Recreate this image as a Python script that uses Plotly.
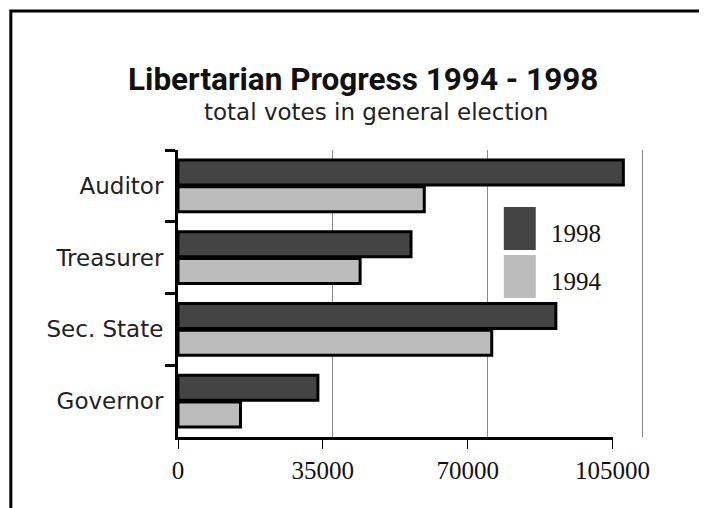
import plotly.graph_objects as go

# ---- data ----
categories = ["Auditor", "Treasurer", "Sec. State", "Governor"]
series_names = ["1998", "1994"]
votes_1998 = [107600, 56300, 91300, 33800]
votes_1994 = [59500, 44000, 75800, 15100]
tick_values = [0, 35000, 70000, 105000]
tick_labels = ["0", "35000", "70000", "105000"]
colors = ["#444444", "#bcbcbc"]

title_text = "Libertarian Progress 1994 - 1998"
subtitle_text = "total votes in general election"

# ---- geometry (screen pixels; page body adds an 8px offset) ----
OFF = 8
W, H = 707, 508
L, R = 177.5, 654.5
T, B = 150, 437
plot_w = R - L
front_end = 613.0           # px where 105000 sits on the front scale
d3 = (front_end - L) / plot_w
R_bars = tick_values[-1] / d3
back_px_per_step = 155.0     # back-wall gridline spacing
R_grid = plot_w * 35000 / back_px_per_step

sans = "DejaVu Sans"
serif = "Liberation Serif"

fig = go.Figure()

# dummy trace for grid axis (drawn first -> behind bars)
fig.add_trace(go.Scatter(x=[0], y=[categories[0]], xaxis="x", yaxis="y",
                         mode="markers", marker=dict(opacity=0),
                         hoverinfo="skip", showlegend=False))

for name, vals, col in zip(series_names, [votes_1998, votes_1994], colors):
    fig.add_trace(go.Bar(y=categories, x=vals, name=name, orientation="h",
                         xaxis="x2", yaxis="y",
                         marker=dict(color=col, line=dict(color="black", width=3)),
                         showlegend=False))

# dummy trace for front tick axis
fig.add_trace(go.Scatter(x=[0], y=[categories[0]], xaxis="x3", yaxis="y",
                         mode="markers", marker=dict(opacity=0),
                         hoverinfo="skip", showlegend=False))

def px_x(p):
    return (p - L) / plot_w

def px_y(p):
    return (B - p) / (B - T)

annotations = [
    dict(text="<b>" + title_text + "</b>", xref="paper", yref="paper",
         x=px_x(362.5), y=px_y(79), xanchor="center", yanchor="middle",
         showarrow=False,
         font=dict(family="Roboto", size=31.5, color="#111111")),
    dict(text=subtitle_text, xref="paper", yref="paper",
         x=px_x(376), y=px_y(112), xanchor="center", yanchor="middle",
         showarrow=False, font=dict(family=sans, size=23, color="#222222")),
]

shapes = [
    # outer frame
    dict(type="rect", xref="paper", yref="paper",
         x0=px_x(10), x1=px_x(760), y0=px_y(560), y1=px_y(11),
         line=dict(color="black", width=3), fillcolor="rgba(0,0,0,0)", layer="below"),
]

# legend (manual, big swatches)
legend_boxes = [(207, 250), (255, 298)]
legend_text_y = [233, 281]
for name, col, (ty, by), tyc in zip(series_names, colors, legend_boxes, legend_text_y):
    shapes.append(dict(type="rect", xref="paper", yref="paper",
                       x0=px_x(504), x1=px_x(536), y0=px_y(by), y1=px_y(ty),
                       fillcolor=col, line=dict(width=0)))
    annotations.append(dict(text=name, xref="paper", yref="paper",
                            x=px_x(549), y=px_y(tyc), xanchor="left", yanchor="middle",
                            showarrow=False, font=dict(family=serif, size=25, color="#111111")))

fig.update_layout(
    width=W, height=H,
    margin=dict(l=L - OFF, r=(W + OFF) - R, t=T - OFF, b=(H + OFF) - B, pad=0),
    paper_bgcolor="white", plot_bgcolor="rgba(0,0,0,0)",
    barmode="group", bargap=0.26, bargroupgap=0.06,
    showlegend=False,
    xaxis=dict(domain=[0, 1], range=[0, R_grid], anchor="y",
               tickvals=tick_values, showticklabels=False, ticks="",
               showgrid=True, gridcolor="#8a8a8a", gridwidth=1,
               zeroline=False, showline=False, fixedrange=True),
    xaxis2=dict(domain=[0, 1], range=[0, R_bars], anchor="y",
                showticklabels=False, ticks="", showgrid=False,
                zeroline=False, showline=False),
    xaxis3=dict(domain=[0, d3], range=[0, tick_values[-1]], anchor="y",
                tickvals=tick_values, ticktext=tick_labels,
                ticks="outside", ticklen=9, tickwidth=1, tickcolor="black",
                ticklabelstandoff=0,
                tickfont=dict(family=serif, size=25, color="#111111"),
                showgrid=False, zeroline=False,
                showline=True, linecolor="black", linewidth=3),
    yaxis=dict(domain=[0, 1], autorange="reversed", anchor="x",
               type="category", categoryorder="array", categoryarray=categories,
               tickson="boundaries", ticks="outside", ticklen=10, tickwidth=3,
               tickcolor="black", ticklabelstandoff=7,
               tickfont=dict(family=sans, size=23, color="#222222"),
               showgrid=False, zeroline=False,
               showline=True, linecolor="black", linewidth=3),
    annotations=annotations,
    shapes=shapes,
)

fig.write_html("out.html")
